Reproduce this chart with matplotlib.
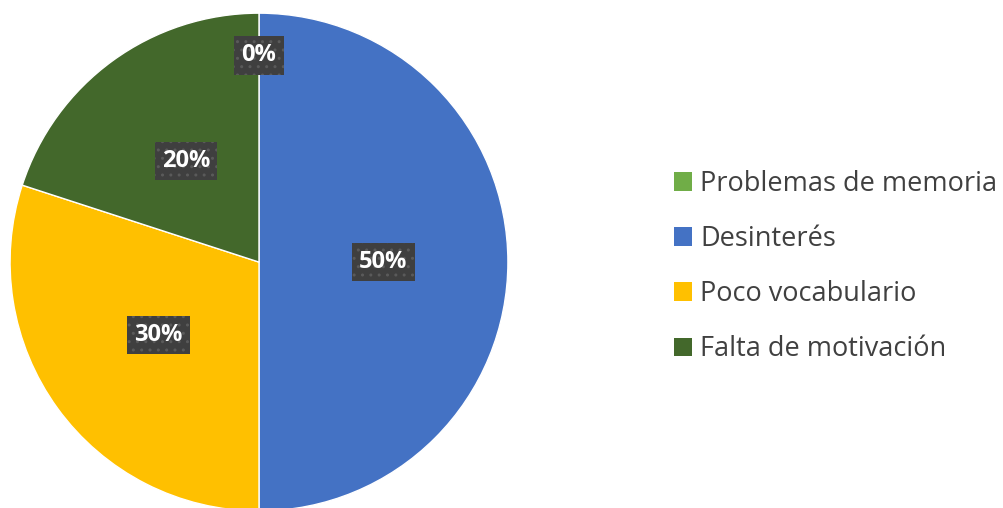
import matplotlib.pyplot as plt
from matplotlib.patches import Patch

categorias = ['Problemas de memoria', 'Desinterés', 'Poco vocabulario', 'Falta de motivación']
valores = [0, 50, 30, 20]
colores = ['#70AD47', '#4472C4', '#FFC000', '#43682B']

plt.rcParams['font.family'] = ['Open Sans', 'DejaVu Sans']

fig = plt.figure(figsize=(10.04, 5.08), dpi=100)
ax = fig.add_axes([0.00996, -0.0059, 0.496, 0.980])

wedges, textos, pcts = ax.pie(
    valores, colors=colores, startangle=90, counterclock=False,
    autopct=lambda p: f'{p:.0f}%', pctdistance=0.5, radius=1,
    wedgeprops=dict(edgecolor='white', linewidth=1),
)
ax.set_xlim(-1, 1)
ax.set_ylim(-1, 1)

for t in pcts:
    t.set_color('white')
    t.set_fontsize(17)
    t.set_fontweight('bold')
    t.set_bbox(dict(boxstyle='square,pad=0.3', facecolor='#3f3f3f',
                    edgecolor='#5a5a5a', linewidth=0, hatch='..'))
# la etiqueta del 0% queda cerca del borde superior
pcts[0].set_position((0, 0.83))

manejadores = [Patch(facecolor=c, edgecolor='none') for c in colores]
fig.legend(manejadores, categorias, loc='center left', bbox_to_anchor=(0.671, 0.475),
           frameon=False, fontsize=19.5, handlelength=0.68, handleheight=0.68,
           handletextpad=0.3, labelspacing=1.0, labelcolor='#404040', borderpad=0,
           borderaxespad=0)

fig.savefig('out.png', dpi=100)
